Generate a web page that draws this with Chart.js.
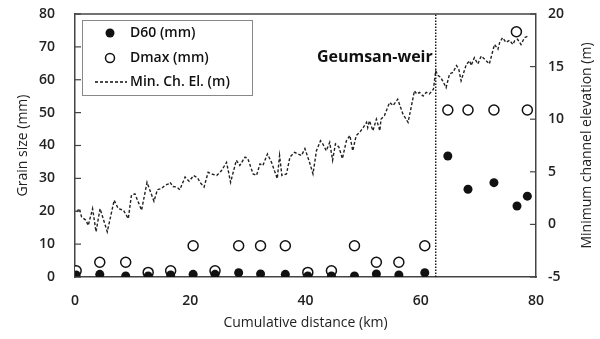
<!DOCTYPE html>
<html>
<head>
<meta charset="utf-8">
<script src="https://cdn.jsdelivr.net/npm/chart.js@4.4.1/dist/chart.umd.min.js"></script>
<style>
  html, body { margin: 0; padding: 0; background: #fff; }
  #wrap { width: 600px; height: 339px; }
</style>
</head>
<body>
<div id="wrap"><canvas id="grafico"></canvas></div>
<script>
// distancias das amostras de sedimento (km)
const amostraKm = [0.2, 4.3, 8.8, 12.7, 16.6, 20.5, 24.3, 28.4, 32.2, 36.5, 40.4, 44.5, 48.5, 52.3, 56.2, 60.7, 64.7, 68.2, 72.7, 76.7, 78.5]
const d60 = [0.6, 0.8, 0.3, 0.3, 0.6, 0.8, 0.8, 1.3, 0.9, 0.8, 0.3, 0.3, 0.3, 0.9, 0.6, 1.3, 36.8, 26.7, 28.7, 21.6, 24.6]
const dmaxKm = [0.2, 4.3, 8.8, 12.7, 16.6, 20.5, 24.3, 28.4, 32.2, 36.5, 40.4, 44.5, 48.5, 52.3, 56.2, 60.7, 64.7, 68.2, 72.7, 76.6, 78.5]
const dmax = [1.9, 4.5, 4.5, 1.4, 1.9, 9.5, 1.9, 9.5, 9.5, 9.5, 1.4, 1.9, 9.5, 4.5, 4.5, 9.5, 50.8, 50.8, 50.8, 74.6, 50.8]

// elevacao minima do canal (m)
const elevKm = [
  0.3, 0.75, 1.15, 1.9, 2.3, 3.05, 3.65, 4.35, 5.6, 6.8, 7.5, 8.4, 9.25, 9.8, 10.4, 11.55,
  12.5, 13.7, 14.3, 15.0, 15.6, 16.2, 16.5, 17.0, 17.7, 18.2, 19.1, 19.8, 20.6, 21.3, 21.7,
  22.4, 23.1, 23.7, 24.6, 25.4, 26.3, 27.0, 28.0, 28.6, 29.5, 30.0, 30.9, 31.5, 32.1, 32.6,
  33.4, 34.1, 35.1, 35.5, 35.9, 36.7, 37.3, 38.1, 39.3, 39.9, 40.4, 40.7, 41.3, 41.9, 42.6,
  43.0, 43.6, 44.2, 44.7, 45.2, 45.8, 46.4, 47.1, 47.7, 48.2, 48.8, 49.4, 50.0, 50.6, 50.8,
  51.1, 51.7, 52.3, 52.9, 53.1, 53.7, 54.6, 55.2, 56.0, 56.9, 57.8, 58.4, 58.9, 59.3, 59.8,
  60.4, 60.95, 61.5, 62.2, 62.6, 63.0, 63.4, 63.8, 64.4, 65.0, 65.6, 66.2, 66.6, 67.0, 67.9,
  68.5, 68.75, 69.3, 69.9, 70.5, 71.1, 71.9, 72.8, 73.4, 73.7, 74.2, 74.8, 75.4, 76.0, 76.3,
  76.8, 77.4, 78.0, 78.6
]
const elevM = [
  1.2, 1.5, 0.7, 0.4, -0.1, 1.5, -0.7, 1.5, -0.7, 2.3, 1.5, 1.35, 0.55, 2.8, 2.9, 1.35,
  4.0, 2.2, 3.3, 3.4, 3.7, 3.85, 4.0, 3.6, 3.55, 3.3, 4.5, 4.1, 4.65, 4.4, 4.0,
  3.55, 4.95, 4.8, 4.65, 5.1, 5.9, 4.0, 6.1, 5.6, 6.4, 6.25, 4.8, 4.65, 5.75, 5.6,
  6.7, 5.9, 4.35, 6.55, 4.65, 4.8, 6.4, 6.85, 6.55, 7.2, 6.4, 5.9, 4.8, 7.0, 7.95,
  7.65, 7.0, 7.8, 6.1, 7.65, 7.35, 6.25, 7.95, 8.45, 7.0, 8.45, 8.75, 9.2, 9.7, 9.2,
  9.85, 8.9, 10.0, 8.9, 10.0, 10.35, 11.6, 11.3, 11.9, 10.5, 9.7, 11.3, 12.7, 12.4, 12.55,
  12.2, 12.55, 12.4, 12.85, 14.6, 14.15, 14.0, 13.65, 13.0, 14.3, 14.45, 15.1, 14.75, 13.65, 15.2,
  15.55, 15.1, 15.85, 15.25, 16.0, 15.7, 15.25, 17.1, 16.65, 17.3, 17.75, 17.3, 17.5, 17.1, 17.45,
  17.6, 17.1, 17.75, 17.9
]

const represaKm = 62.6
const nomeRepresa = 'Geumsan-weir'
const legendaTextos = ['D60 (mm)', 'Dmax (mm)', 'Min. Ch. El. (m)']

const fonte = '"Open Sans", "Noto Sans", sans-serif'
const corEixo = '#444'

const pares = (xs, ys) => xs.map((x, i) => ({ x, y: ys[i] }))

// tira o espaco extra que o Chart.js reserva para os rotulos
function semFolga(s) {
  s.paddingTop = 0
  s.paddingBottom = 0
  s.paddingLeft = 0
  s.paddingRight = 0
}

const molduraPlugin = {
  id: 'moldura',
  afterDraw(chart) {
    const { ctx, chartArea: a, scales } = chart
    ctx.save()
    ctx.strokeStyle = corEixo
    ctx.lineWidth = 1.5
    ctx.beginPath()
    ctx.moveTo(a.left, a.top)
    ctx.lineTo(a.right, a.top)
    ctx.stroke()
    // marcas para dentro
    ctx.lineWidth = 1.2
    scales.y.ticks.forEach(t => {
      const py = scales.y.getPixelForValue(t.value)
      ctx.beginPath(); ctx.moveTo(a.left, py); ctx.lineTo(a.left + 6, py); ctx.stroke()
    })
    scales.y2.ticks.forEach(t => {
      const py = scales.y2.getPixelForValue(t.value)
      ctx.beginPath(); ctx.moveTo(a.right, py); ctx.lineTo(a.right - 6, py); ctx.stroke()
    })

    // titulo do eixo direito, lido de baixo para cima
    ctx.fillStyle = '#222'
    ctx.font = `14px ${fonte}`
    ctx.textAlign = 'center'
    ctx.textBaseline = 'middle'
    ctx.translate(587, (a.top + a.bottom) / 2)
    ctx.rotate(-Math.PI / 2)
    ctx.fillText('Minimum channel elevation (m)', 0, 0)
    ctx.setTransform(1, 0, 0, 1, 0, 0)

    // nome da represa
    const wx = scales.x.getPixelForValue(represaKm)
    ctx.font = `bold 16px ${fonte}`
    ctx.textAlign = 'right'
    ctx.fillStyle = '#111'
    ctx.fillText(nomeRepresa, wx - 3, a.top + 43)

    // legenda
    ctx.strokeStyle = '#888'
    ctx.lineWidth = 1
    ctx.strokeRect(82.5, a.top + 6.5, 170, 75)
    ctx.font = `600 14px ${fonte}`
    ctx.textAlign = 'left'
    ctx.fillStyle = '#111'
    const ys = [19, 44, 68].map(v => a.top + v)
    ctx.beginPath(); ctx.arc(110, ys[0], 4.5, 0, Math.PI * 2); ctx.fill()
    ctx.strokeStyle = '#111'
    ctx.lineWidth = 1.5
    ctx.beginPath(); ctx.arc(110, ys[1], 4.5, 0, Math.PI * 2); ctx.stroke()
    ctx.setLineDash([3, 2])
    ctx.lineWidth = 1.3
    ctx.beginPath(); ctx.moveTo(95, ys[2]); ctx.lineTo(127, ys[2]); ctx.stroke()
    ctx.setLineDash([])
    legendaTextos.forEach((t, i) => ctx.fillText(t, 130, ys[i]))
    ctx.restore()
  }
}

const ctx = document.getElementById('grafico').getContext('2d')
new Chart(ctx, {
  type: 'scatter',
  data: {
    datasets: [
      {
        label: legendaTextos[0],
        data: pares(amostraKm, d60),
        yAxisID: 'y',
        pointRadius: 4.5,
        pointBackgroundColor: '#111',
        pointBorderColor: '#111',
        pointBorderWidth: 0,
      },
      {
        label: legendaTextos[1],
        data: pares(dmaxKm, dmax),
        yAxisID: 'y',
        pointRadius: 5,
        pointBackgroundColor: '#fff',
        pointBorderColor: '#111',
        pointBorderWidth: 1.5,
      },
      {
        type: 'line',
        label: legendaTextos[2],
        data: pares(elevKm, elevM),
        yAxisID: 'y2',
        borderColor: '#222',
        borderWidth: 1.4,
        borderDash: [3, 2],
        pointRadius: 0,
        tension: 0,
      },
      {
        type: 'line',
        label: 'weir',
        data: [{ x: represaKm, y: -5 }, { x: represaKm, y: 20 }],
        yAxisID: 'y2',
        borderColor: '#111',
        borderWidth: 1.4,
        borderDash: [1.5, 1.5],
        pointRadius: 0,
      },
    ]
  },
  options: {
    responsive: true,
    maintainAspectRatio: false,
    animation: false,
    layout: { padding: { top: 14, left: 0, right: 0, bottom: 0 } },
    plugins: {
      legend: { display: false },
      tooltip: { enabled: false },
    },
    scales: {
      x: {
        type: 'linear',
        min: 0,
        max: 80,
        ticks: { stepSize: 20, padding: 16, color: '#222', font: { family: fonte, size: 14, weight: '600' } },
        grid: { drawOnChartArea: false, drawTicks: false },
        border: { color: corEixo, width: 1.5 },
        title: { display: true, text: 'Cumulative distance (km)', color: '#222', font: { family: fonte, size: 14 }, padding: { top: 0, bottom: 8 } },
        afterFit: s => { s.height = 62; semFolga(s) },
      },
      y: {
        position: 'left',
        min: 0,
        max: 80,
        ticks: { stepSize: 10, padding: 20, color: '#222', font: { family: fonte, size: 14, weight: '600' } },
        grid: { drawOnChartArea: false, drawTicks: false },
        border: { color: corEixo, width: 1.5 },
        title: { display: true, text: 'Grain size (mm)', color: '#222', font: { family: fonte, size: 14 }, padding: { top: 15, bottom: 0 } },
        afterFit: s => { s.width = 75; semFolga(s) },
      },
      y2: {
        position: 'right',
        min: -5,
        max: 20,
        ticks: { stepSize: 5, padding: 12, color: '#222', font: { family: fonte, size: 14, weight: '600' } },
        grid: { drawOnChartArea: false, drawTicks: false },
        border: { color: corEixo, width: 1.5 },
        afterFit: s => { s.width = 64; semFolga(s) },
      },
    },
  },
  plugins: [molduraPlugin],
})
</script>
</body>
</html>
